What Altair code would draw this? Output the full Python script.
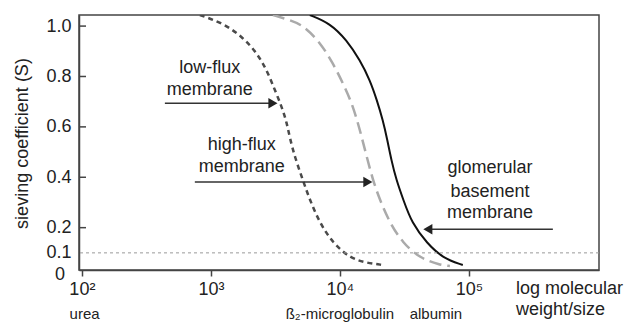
import altair as alt
import pandas as pd

FONT = "Liberation Sans"

# ---- curve data (molecular weight, sieving coefficient) ----
low_mw = [822, 1239, 1770, 2275, 2716, 3133, 3548, 3882, 4093, 4477, 5164, 5848, 6998, 8831, 11967, 16181, 21528]
low_s = [1.044, 1.012, 0.956, 0.893, 0.825, 0.746, 0.679, 0.615, 0.556, 0.480, 0.389, 0.310, 0.218, 0.139, 0.079, 0.060, 0.052]

high_mw = [3027, 4093, 5164, 6998, 8831, 10544, 12388, 13804, 14825, 16181, 18030, 20417, 24434, 30761, 41687, 59566, 71285]
high_s = [1.044, 1.024, 1.004, 0.937, 0.853, 0.774, 0.694, 0.615, 0.556, 0.480, 0.389, 0.310, 0.218, 0.139, 0.079, 0.052, 0.048]

gbm_mw = [5848, 8356, 11324, 14289, 17100, 19364, 21528, 23330, 25060, 27400, 31050, 36141, 47206, 62806, 89743]
gbm_s = [1.044, 1.012, 0.944, 0.865, 0.786, 0.706, 0.627, 0.548, 0.468, 0.389, 0.310, 0.218, 0.139, 0.079, 0.052]

# ---- axis ticks ----
x_ticks = [100, 1000, 10000, 100000]
x_tick_labels = ["10²", "10³", "10⁴", "10⁵"]
y_ticks = [0.1, 0.2, 0.4, 0.6, 0.8, 1.0]
y_inner_ticks = [0.2, 0.4, 0.6, 0.8, 1.0]
threshold = 0.1

# ---- annotations ----
ann_text = ["low-flux", "membrane", "high-flux", "membrane", "glomerular", "basement", "membrane"]
ann_mw = [982, 982, 1738, 1738, 145600, 145600, 145600]
ann_s = [0.833, 0.746, 0.528, 0.440, 0.437, 0.341, 0.258]

arrow_tail = [440, 751, 447700]
arrow_head = [3027, 16480, 48080]
arrow_s = [0.694, 0.381, 0.194]
arrow_shape = ["triangle-right", "triangle-right", "triangle-left"]

mol_names = ["urea", "ß₂-microglobulin", "albumin"]
mol_mw = [105, 10000, 55500]

xdom = [95, 1020000]
ydom = [0.032, 1.044]

xs = alt.Scale(type="log", domain=xdom, nice=False)
ys = alt.Scale(domain=ydom, nice=False, zero=False)

label_expr = " : ".join(
    [f"datum.value == {v} ? '{l}'" for v, l in zip(x_ticks, x_tick_labels)]
) + " : ''"

low_df = pd.DataFrame({"mw": low_mw, "s": low_s})
high_df = pd.DataFrame({"mw": high_mw, "s": high_s})
gbm_df = pd.DataFrame({"mw": gbm_mw, "s": gbm_s})

base_x = alt.X("mw:Q", scale=xs,
               axis=alt.Axis(values=x_ticks, labelExpr=label_expr, title=None, grid=False,
                             tickSize=6, labelPadding=4, labelFontSize=18, labelFont=FONT,
                             labelColor="#222", domainColor="#444", tickColor="#444",
                             domainWidth=1.5, tickWidth=1.5, labelFlush=False))
base_y = alt.Y("s:Q", scale=ys,
               axis=alt.Axis(values=y_ticks, format=".1f", tickSize=0, labelPadding=8,
                             labelFontSize=18, labelFont=FONT, labelColor="#222",
                             domainColor="#444", domainWidth=1.5, grid=False,
                             title="sieving coefficient (S)", titleFont=FONT,
                             titleFontSize=18, titleFontWeight="normal", titleColor="#222",
                             titleAngle=270, titleX=-57, titleY=128, titleAlign="center",
                             titleBaseline="middle"))

low = alt.Chart(low_df).mark_line(color="#4a4a4a", strokeWidth=2.5, strokeDash=[5, 4],
                                  interpolate="basis", clip=True).encode(x=base_x, y=base_y)
high = alt.Chart(high_df).mark_line(color="#aaaaaa", strokeWidth=2.5, strokeDash=[12, 6],
                                    interpolate="basis", clip=True).encode(x="mw:Q", y="s:Q")
gbm = alt.Chart(gbm_df).mark_line(color="#111111", strokeWidth=2,
                                  interpolate="basis", clip=True).encode(x="mw:Q", y="s:Q")

thr = alt.Chart(pd.DataFrame({"s": [threshold]})).mark_rule(
    color="#999999", strokeWidth=1, strokeDash=[3, 3]).encode(y="s:Q")

inner_ticks = alt.Chart(pd.DataFrame({"s": y_inner_ticks})).mark_rule(
    color="#444", strokeWidth=1.5).encode(y="s:Q", x=alt.value(0), x2=alt.value(7))

zero_label = alt.Chart(pd.DataFrame({"t": ["0"]})).mark_text(
    font=FONT, fontSize=18, color="#222", align="right", baseline="middle").encode(
    text="t:N", x=alt.value(-14), y=alt.value(260))

arrows_df = pd.DataFrame({"tail": arrow_tail, "head": arrow_head, "s": arrow_s, "shape": arrow_shape})
shafts = alt.Chart(arrows_df).mark_rule(color="#333", strokeWidth=1.5).encode(
    x="tail:Q", x2="head:Q", y="s:Q")
heads = alt.Chart(arrows_df).mark_point(filled=True, color="#222", size=110, opacity=1).encode(
    x="head:Q", y="s:Q",
    shape=alt.Shape("shape:N", scale=None))

ann_df = pd.DataFrame({"t": ann_text, "mw": ann_mw, "s": ann_s})
ann = alt.Chart(ann_df).mark_text(font=FONT, fontSize=18, color="#222",
                                  align="center", baseline="middle").encode(
    x="mw:Q", y="s:Q", text="t:N")

mol_df = pd.DataFrame({"t": mol_names, "mw": mol_mw})
mols = alt.Chart(mol_df).mark_text(font=FONT, fontSize=15, color="#222",
                                   align="center", baseline="middle").encode(
    x="mw:Q", y=alt.value(299), text="t:N")

xtitle_df = pd.DataFrame({"t": ["log molecular", "weight/size"], "yy": [274, 295]})
xtitle = alt.Chart(xtitle_df).mark_text(font=FONT, fontSize=18, color="#222",
                                        align="left", baseline="middle").encode(
    x=alt.value(437), y=alt.Y("yy:Q", scale=None), text="t:N")

chart = alt.layer(low, high, gbm, thr, inner_ticks, zero_label, shafts, heads, ann, mols, xtitle).properties(
    width=520, height=255,
    autosize=alt.AutoSizeParams(type="none"),
    padding={"left": 71, "top": 7, "right": 26, "bottom": 53},
    background="white",
).configure_view(stroke="#444", strokeWidth=1.5)

chart.save("out.html", embed_options={"renderer": "svg", "actions": False})
